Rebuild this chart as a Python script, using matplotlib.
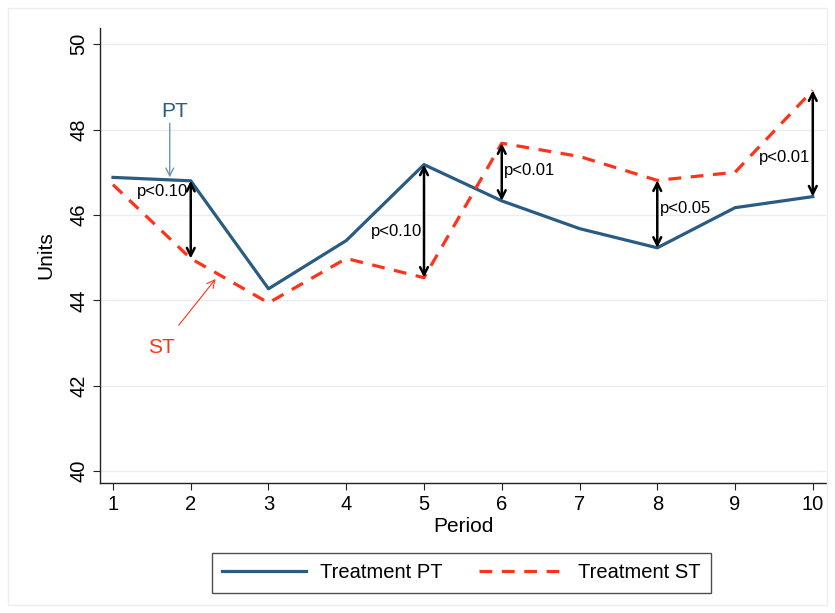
import numpy as np
import matplotlib.pyplot as plt

plt.rcParams['font.family'] = 'Liberation Sans'

periods = [1, 2, 3, 4, 5, 6, 7, 8, 9, 10]
treat_pt = [46.88, 46.80, 44.27, 45.40, 47.18, 46.33, 45.68, 45.23, 46.17, 46.43]
treat_st = [46.71, 44.98, 43.94, 44.98, 44.53, 47.68, 47.37, 46.81, 47.00, 48.92]

# significance arrows: period, label, side of text
sig_periods = [2, 5, 6, 8, 10]
sig_labels = ['p<0.10', 'p<0.10', 'p<0.01', 'p<0.05', 'p<0.01']
sig_side = ['left', 'left', 'right', 'right', 'left']
sig_text_y = [46.55, 45.62, 47.05, 46.15, 47.35]

c_pt = '#2a5b82'
c_st = '#ff3319'

fig = plt.figure(figsize=(8.35, 6.13), dpi=100)
ax = fig.add_axes([100/835, 1 - 483/613, 726/835, 455/613])

for s in ['top', 'right']:
    ax.spines[s].set_visible(False)
for s in ['left', 'bottom']:
    ax.spines[s].set_color('#222222')
    ax.spines[s].set_linewidth(1.0)

ax.set_xlim(0.833, 10.17)
ax.set_ylim(39.72, 50.38)
ax.set_xticks(periods)
ax.set_yticks([40, 42, 44, 46, 48, 50])
ax.tick_params(axis='both', direction='out', length=5, width=0.8, labelsize=14.5, color='#222222')
for lab in ax.get_yticklabels():
    lab.set_rotation(90)
    lab.set_va('center')
ax.grid(axis='y', color='#e8eff0', linewidth=1)
ax.set_axisbelow(True)

ax.set_xlabel('Period', fontsize=15, labelpad=2)
ax.set_ylabel('Units', fontsize=15, labelpad=10)

l1, = ax.plot(periods, treat_pt, color=c_pt, lw=2.3, label='Treatment PT')
l2, = ax.plot(periods, treat_st, color=c_st, lw=2.3, ls=(0, (4, 3)), label='Treatment ST')

for p, lab, side, ty in zip(sig_periods, sig_labels, sig_side, sig_text_y):
    i = periods.index(p)
    a, b = treat_pt[i], treat_st[i]
    ax.annotate('', xy=(p, a), xytext=(p, b),
                arrowprops=dict(arrowstyle='<->', color='black', lw=1.8,
                                shrinkA=0, shrinkB=0, mutation_scale=14))
    if side == 'left':
        ax.text(p - 0.03, ty, lab, ha='right', va='center', fontsize=12)
    else:
        ax.text(p + 0.03, ty, lab, ha='left', va='center', fontsize=12)

ax.text(1.79, 48.42, 'PT', color=c_pt, fontsize=15, ha='center', va='center')
ax.annotate('', xy=(1.73, 46.88), xytext=(1.73, 48.15),
            arrowprops=dict(arrowstyle='->', color='#6d93b3', lw=1, shrinkA=0, shrinkB=0,
                            mutation_scale=14))
ax.annotate('ST', xy=(2.32, 44.5), xytext=(1.62, 42.9), color=c_st, fontsize=15,
            ha='center', va='center',
            arrowprops=dict(arrowstyle='->', color=c_st, lw=0.8, shrinkA=9, shrinkB=0,
                            mutation_scale=14))

leg = fig.legend(handles=[l1, l2], loc='center', bbox_to_anchor=(461/835, 1 - 573/613),
                 ncol=2, fontsize=14.5, frameon=True, fancybox=False, edgecolor='#222222',
                 handlelength=4.2, columnspacing=1.8, borderpad=0.5, handletextpad=0.7)
leg.get_frame().set_linewidth(1)

fig.patches.append(plt.Rectangle((8/835, 8/613), 1 - 16/835, 1 - 16/613, transform=fig.transFigure,
                                 fill=False, edgecolor='#eeeeee', lw=1))

fig.savefig('out.png', dpi=100)
